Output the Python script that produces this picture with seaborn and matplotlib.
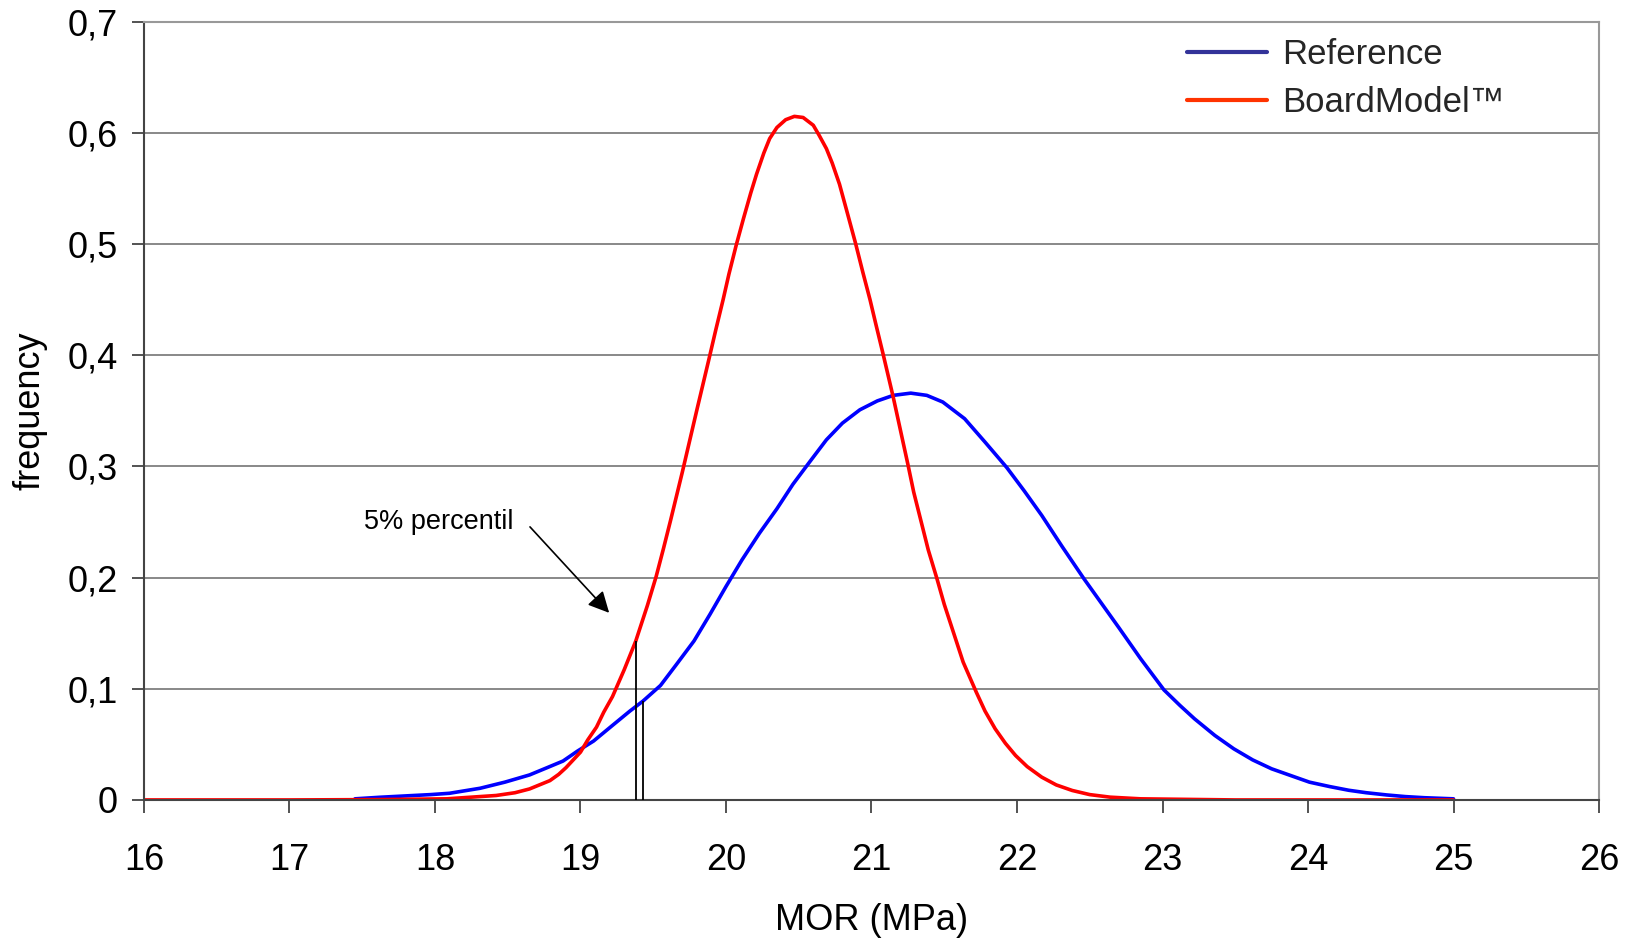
import matplotlib
matplotlib.use("Agg")
import matplotlib.pyplot as plt
import seaborn as sns
import pandas as pd
from matplotlib.lines import Line2D

# ---- data ----
ref_x = [17.45, 17.62, 17.97, 18.10, 18.31, 18.48, 18.65, 18.77, 18.88, 18.98, 19.09,
         19.21, 19.34, 19.43, 19.55, 19.66, 19.78, 19.89, 20.00, 20.11, 20.23, 20.35,
         20.46, 20.58, 20.69, 20.80, 20.92, 21.04, 21.15, 21.27, 21.38, 21.49, 21.64,
         21.78, 21.93, 22.05, 22.17, 22.31, 22.46, 22.58, 22.70, 22.85, 23.01, 23.12,
         23.22, 23.36, 23.49, 23.62, 23.75, 23.88, 24.01, 24.15, 24.28, 24.40, 24.54,
         24.67, 24.80, 25.00]
ref_y = [0.001, 0.0024, 0.0048, 0.006, 0.0105, 0.016, 0.0225, 0.029, 0.035, 0.044, 0.053,
         0.066, 0.080, 0.089, 0.103, 0.122, 0.143, 0.167, 0.192, 0.216, 0.240, 0.262,
         0.284, 0.305, 0.324, 0.339, 0.351, 0.359, 0.364, 0.366, 0.364, 0.358, 0.343,
         0.322, 0.299, 0.278, 0.256, 0.228, 0.199, 0.177, 0.155, 0.127, 0.099, 0.085,
         0.073, 0.058, 0.046, 0.036, 0.028, 0.022, 0.016, 0.012, 0.0087, 0.0065, 0.0045,
         0.003, 0.002, 0.001]

bm_x = [16.00, 17.00, 17.60, 18.08, 18.42, 18.55, 18.65, 18.79, 18.85, 18.90, 18.95,
        19.00, 19.05, 19.11, 19.16, 19.22, 19.30, 19.38, 19.46, 19.52, 19.57, 19.62,
        19.70, 19.75, 19.80, 19.88, 19.93, 19.98, 20.02, 20.07, 20.12, 20.17, 20.21,
        20.26, 20.30, 20.35, 20.41, 20.47, 20.53, 20.60, 20.64, 20.69, 20.73, 20.78,
        20.83, 20.89, 20.94, 20.99, 21.03, 21.08, 21.15, 21.20, 21.25, 21.29, 21.34,
        21.39, 21.45, 21.50, 21.56, 21.63, 21.72, 21.78, 21.85, 21.92, 21.99, 22.07,
        22.17, 22.27, 22.38, 22.50, 22.64, 22.85, 23.50, 25.00]
bm_y = [0.0, 0.0, 0.0003, 0.001, 0.004, 0.0065, 0.0099, 0.0174, 0.023, 0.029, 0.036,
        0.043, 0.054, 0.0655, 0.079, 0.093, 0.117, 0.143, 0.175, 0.201, 0.226, 0.252,
        0.295, 0.323, 0.351, 0.395, 0.423, 0.450, 0.473, 0.499, 0.523, 0.546, 0.563,
        0.582, 0.595, 0.605, 0.612, 0.615, 0.614, 0.607, 0.598, 0.586, 0.573, 0.554,
        0.530, 0.501, 0.475, 0.450, 0.428, 0.401, 0.362, 0.332, 0.302, 0.277, 0.251,
        0.225, 0.199, 0.176, 0.152, 0.124, 0.097, 0.080, 0.064, 0.051, 0.040, 0.030,
        0.0205, 0.0135, 0.0085, 0.0048, 0.0025, 0.001, 0.0, 0.0]

series_names = ["Reference", "BoardModel™"]
percentile_x = [19.38, 19.43]
percentile_top = [0.143, 0.089]

x_ticks = [16, 17, 18, 19, 20, 21, 22, 23, 24, 25, 26]
y_ticks = [0, 0.1, 0.2, 0.3, 0.4, 0.5, 0.6, 0.7]
y_tick_labels = ["0", "0,1", "0,2", "0,3", "0,4", "0,5", "0,6", "0,7"]

df = pd.concat([
    pd.DataFrame({"MOR": ref_x, "freq": ref_y, "series": series_names[0]}),
    pd.DataFrame({"MOR": bm_x, "freq": bm_y, "series": series_names[1]}),
])

sns.set_theme(style="white")
plt.rcParams["font.family"] = ["Liberation Sans", "DejaVu Sans"]

fig = plt.figure(figsize=(16.36, 9.40), dpi=100)
ax = fig.add_axes([0.088, 0.149, 0.8894, 0.8277])

sns.lineplot(data=df, x="MOR", y="freq", hue="series",
             palette={series_names[0]: "#0000FF", series_names[1]: "#FF0000"},
             linewidth=2.6, ax=ax, legend=False, sort=False, estimator=None)

ax.vlines(percentile_x, 0, percentile_top, colors="black", linewidth=1.3, zorder=3)

ax.set_xlim(16, 26)
ax.set_ylim(0, 0.7)
ax.set_xticks(x_ticks)
ax.set_xticklabels([str(t) for t in x_ticks])
ax.set_yticks(y_ticks)
ax.set_yticklabels(y_tick_labels)

ax.yaxis.grid(True, color="#7f7f7f", linewidth=1.3)
ax.xaxis.grid(False)
ax.set_axisbelow(True)

for side in ["top", "right"]:
    ax.spines[side].set_color("#999999")
    ax.spines[side].set_linewidth(1.5)
for side in ["left", "bottom"]:
    ax.spines[side].set_color("#444444")
    ax.spines[side].set_linewidth(1.5)

ax.tick_params(axis="both", which="major", direction="out", length=9, width=1.3,
               color="#444444", labelsize=26, labelcolor="black")
ax.tick_params(axis="x", pad=22)
ax.tick_params(axis="y", pad=10)
ax.tick_params(left=True, bottom=True)

ax.set_xlabel("MOR (MPa)", fontsize=26, color="black", labelpad=18)
ax.set_ylabel("frequency", fontsize=26, color="black", labelpad=14)

ax.text(17.51, 0.25, "5% percentil", fontsize=19.5, ha="left", va="center", color="black")
ax.annotate("", xy=(19.21, 0.1665), xytext=(18.64, 0.2475),
            arrowprops=dict(arrowstyle="-|>", color="black", lw=1.2, mutation_scale=32))

handles = [Line2D([0], [0], color="#333399", lw=3),
           Line2D([0], [0], color="#FF3300", lw=3)]
fig.legend(handles, series_names, loc="upper left", bbox_to_anchor=(1187 / 1636, 1 - 38.5 / 940),
           frameon=False, fontsize=25, handlelength=2.3, handletextpad=0.45,
           borderpad=0, borderaxespad=0, labelspacing=0.41)

fig.savefig("out.png", dpi=100)
